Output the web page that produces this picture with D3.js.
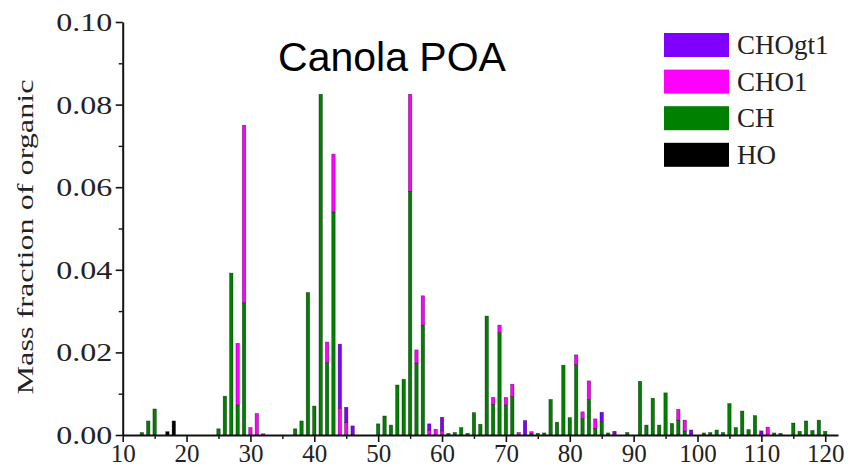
<!DOCTYPE html>
<html><head><meta charset="utf-8">
<script src="https://cdn.jsdelivr.net/npm/d3@7"></script>
<style>html,body{margin:0;padding:0;background:#fff;}svg{display:block;}</style>
</head><body>
<svg id="c" width="848" height="473"></svg>
<script>
const masses = [13,14,15,17,18,25,26,27,28,29,30,31,32,37,38,39,40,41,42,43,44,45,46,50,51,52,53,54,55,56,57,58,59,60,61,62,63,64,65,66,67,68,69,70,71,72,73,74,75,76,77,78,79,80,81,82,83,84,85,86,87,89,91,92,93,94,95,96,97,98,99,101,102,103,104,105,106,107,108,109,110,111,112,113,115,116,117,118,119,120];
const HO = {17:0.0008,18:0.0034};
const CH = {13:0.0006,14:0.0034,15:0.0063,25:0.0015,26:0.0094,27:0.0392,28:0.0073,29:0.032,37:0.0015,38:0.0034,39:0.0345,40:0.007,41:0.0825,42:0.0175,43:0.054,50:0.0027,51:0.0046,52:0.0024,53:0.0121,54:0.0135,55:0.059,56:0.0174,57:0.0266,61:0.0004,62:0.0006,63:0.0018,64:0.0004,65:0.0054,66:0.0026,67:0.0288,68:0.0074,69:0.0248,70:0.0073,71:0.0093,74:0.0004,75:0.0004,76:0.0005,77:0.0086,78:0.0031,79:0.0169,80:0.0042,81:0.017,82:0.004,83:0.0086,84:0.0016,85:0.0032,86:0.0005,89:0.0006,91:0.013,92:0.0024,93:0.0089,94:0.0024,95:0.0102,96:0.0028,97:0.0036,98:0.001,101:0.0005,102:0.0006,103:0.0012,104:0.0006,105:0.0076,106:0.0018,107:0.0058,108:0.0013,109:0.0047,112:0.0005,113:0.0004,115:0.0029,116:0.0009,117:0.0034,118:0.0011,119:0.0036,120:0.0009};
const CHO1 = {28:0.0149,29:0.043,30:0.0018,31:0.0052,32:0.0003,42:0.005,43:0.014,44:0.0065,45:0.003,55:0.0235,56:0.0032,57:0.0071,58:0.0012,59:0.0014,60:0.001,68:0.0017,69:0.0018,70:0.0018,71:0.003,72:0.0006,74:0.0004,81:0.0024,82:0.0016,83:0.0045,84:0.0023,87:0.0003,97:0.0026,98:0.0026,99:0.0004,110:0.0004,111:0.0019};
const CHOgt1 = {44:0.0155,45:0.0037,46:0.0022,58:0.0015,60:0.0033,73:0.0035,85:0.0023,87:0.0006,99:0.0008,110:0.0006};
const seriesNames = ["HO","CH","CHO1","CHOgt1"];
const legendNames = ["CHOgt1","CHO1","CH","HO"];
const colors = {HO:"#000000", CH:"#008000", CHO1:"#ff00ff", CHOgt1:"#7f00ff"};
const xTicks = [10,20,30,40,50,60,70,80,90,100,110,120];
const yTicks = [0,0.02,0.04,0.06,0.08,0.10];
const title = "Canola POA";
const yTitle = "Mass fraction of organic";

const src = {HO, CH, CHO1, CHOgt1};
const rows = masses.map(m => {
  const r = {mass:m};
  seriesNames.forEach(k => r[k] = src[k][m] || 0);
  return r;
});

const svg = d3.select("#c");
const x = d3.scaleLinear().domain([10,122]).range([122.7,838]);
const y = d3.scaleLinear().domain([0,0.1]).range([435,22]);
const bw = 3.4;

const stack = d3.stack().keys(seriesNames)(rows);
svg.append("g").selectAll("g").data(stack).join("g")
  .attr("fill", d => colors[d.key])
  .selectAll("rect").data(d => d.filter(p => p[1]-p[0] > 0)).join("rect")
  .attr("x", d => x(d.data.mass) - bw/2)
  .attr("width", bw)
  .attr("y", d => y(d[1]))
  .attr("height", d => y(d[0]) - y(d[1]))
  .attr("stroke", "rgba(0,0,0,0.55)")
  .attr("stroke-width", 0.6);

// axes
const serif = "'Liberation Serif','Times New Roman',serif";
const xAxis = svg.append("g").attr("transform","translate(0,435)")
  .call(d3.axisBottom(x).tickValues(xTicks).tickSize(7).tickSizeOuter(0).tickFormat(d3.format("d")));
const xMinor = svg.append("g").attr("transform","translate(0,435)")
  .call(d3.axisBottom(x).tickValues(d3.range(15,125,10)).tickSize(4).tickFormat(""));
xMinor.select(".domain").remove();
xAxis.selectAll("text").attr("font-family", serif).attr("font-size", 25).attr("fill","#222").attr("dy", null).attr("y", 27);
xAxis.select(".domain").attr("stroke-width", 2).attr("stroke","#111");
xAxis.selectAll(".tick line").attr("stroke-width", 1.6).attr("stroke","#111");
xMinor.selectAll(".tick line").attr("stroke-width", 1.4).attr("stroke","#111");

const yAxis = svg.append("g").attr("transform","translate(122.7,0)")
  .call(d3.axisLeft(y).tickValues(yTicks).tickSize(7).tickSizeOuter(0).tickFormat(d3.format(".2f")));
const yMinor = svg.append("g").attr("transform","translate(122.7,0)")
  .call(d3.axisLeft(y).tickValues([0.01,0.03,0.05,0.07,0.09]).tickSize(4).tickFormat(""));
yMinor.select(".domain").remove();
yAxis.select(".domain").attr("stroke-width", 2).attr("stroke","#111");
yAxis.selectAll(".tick line").attr("stroke-width", 1.6).attr("stroke","#111");
yMinor.selectAll(".tick line").attr("stroke-width", 1.4).attr("stroke","#111");
yAxis.selectAll("text").attr("font-family", serif).attr("font-size", 25).attr("fill","#222")
  .attr("x", -10.5).attr("dy", "0.34em")
  .attr("textLength", 56).attr("lengthAdjust", "spacingAndGlyphs");

// y title
svg.append("text").attr("transform","translate(33,237) rotate(-90)")
  .attr("text-anchor","middle").attr("font-family", serif).attr("font-size", 23).attr("fill","#222")
  .attr("textLength", 315).attr("lengthAdjust","spacingAndGlyphs")
  .text(yTitle);

// title
svg.append("text").attr("x", 392).attr("y", 71).attr("text-anchor","middle")
  .attr("font-family","'Liberation Sans',Arial,sans-serif").attr("font-size", 41).attr("fill","#000")
  .text(title);

// legend
const lg = svg.append("g");
legendNames.forEach((k,i) => {
  const yy = 33 + i*36.6;
  lg.append("rect").attr("x",664).attr("y",yy).attr("width",65).attr("height",24).attr("fill",colors[k]);
  lg.append("text").attr("x",737).attr("y",yy+21).attr("font-family",serif).attr("font-size",27).attr("fill","#222").text(k);
});
</script>
</body></html>
